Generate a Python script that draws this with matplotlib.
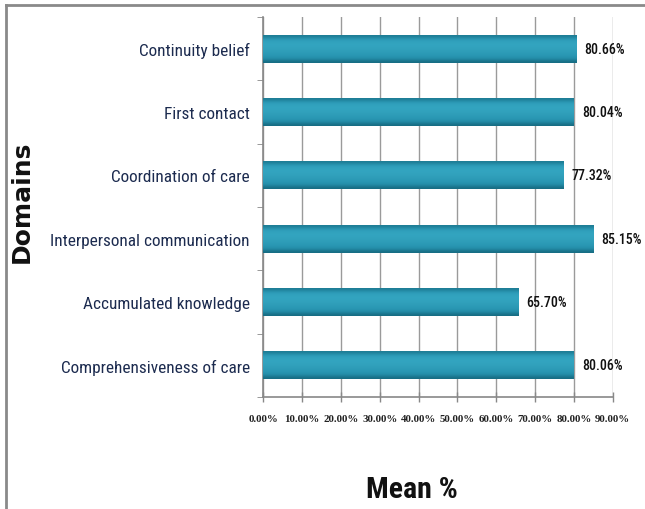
import matplotlib.pyplot as plt
import numpy as np
from matplotlib import font_manager
from matplotlib.colors import LinearSegmentedColormap
from matplotlib.lines import Line2D
from matplotlib.ticker import FixedLocator

# Domain scores (mean %), listed top to bottom
domains = ["Continuity belief", "First contact", "Coordination of care",
           "Interpersonal communication", "Accumulated knowledge",
           "Comprehensiveness of care"]
means = [80.66, 80.04, 77.32, 85.15, 65.70, 80.06]
xticks = [0, 10, 20, 30, 40, 50, 60, 70, 80, 90]

# pick a condensed sans that has a real bold face, else plain Liberation Sans
bold_faces = {f.name for f in font_manager.fontManager.ttflist
              if isinstance(f.weight, int) and f.weight >= 700}
narrow, scale = "Liberation Sans", 0.85
for cand in ["Liberation Sans Narrow", "Arial Narrow", "Roboto Condensed", "Asap Condensed"]:
    if cand in bold_faces:
        narrow, scale = cand, 1.0
        break

fig = plt.figure(figsize=(6.45, 5.10), dpi=100)
ax = fig.add_axes([0.408, 0.2196, 0.542, 0.7452])

y = np.arange(len(domains))[::-1]
bar_h = 0.44
bars = ax.barh(y, means, height=bar_h, color="#2a98b4", edgecolor="none", zorder=3)

# shaded fill for each bar: slightly darker rims, lighter body
shade = np.array([0.6, 0.85, 0.95, 0.97, 0.95, 0.9, 0.85, 0.8, 0.7, 0.5]).reshape(-1, 1)
cmap = LinearSegmentedColormap.from_list("teal", ["#14657a", "#2590ac", "#35a7c2"])
for b, v, yy in zip(bars, means, y):
    im = ax.imshow(shade, cmap=cmap, vmin=0.45, vmax=1.0, aspect="auto",
                   extent=[0, v, yy - bar_h / 2, yy + bar_h / 2],
                   interpolation="bicubic", zorder=4)
    im.set_clip_path(b)
    ax.text(v + 2.0, yy, f"{v:.2f}%", va="center", ha="left",
            fontsize=10 * scale, family=narrow, fontweight="medium",
            color="#111111", zorder=5)

ax.set_xlim(0, 90)
ax.set_ylim(-0.5, len(domains) - 0.5)
ax.set_xticks(xticks)
ax.set_xticklabels([f"{t:.2f}%" for t in xticks], family="Liberation Serif",
                   fontweight="bold", fontsize=7.8, color="#222222")
ax.tick_params(axis="x", direction="inout", length=7, width=1, color="#888888", pad=9)

ax.set_yticks(y)
ax.set_yticklabels(domains, family=narrow, fontsize=12.4 * scale, color="#1c2b4f")
ax.yaxis.set_minor_locator(FixedLocator(np.arange(-0.5, len(domains), 1.0)))
ax.tick_params(axis="y", which="major", length=0, pad=9.5)
ax.tick_params(axis="y", which="minor", direction="out", length=4, color="#888888")

ax.grid(axis="x", color="#9a9a9a", linewidth=1, zorder=0)
ax.set_axisbelow(True)
for s in ["top", "right"]:
    ax.spines[s].set_visible(False)
for s in ["left", "bottom"]:
    ax.spines[s].set_color("#888888")
    ax.spines[s].set_linewidth(1.2)

fig.text(0.639, 0.039, "Mean %", ha="center", va="center", fontsize=21.5 * scale,
         family=narrow, fontweight="bold", color="#111111")
fig.text(0.034, 0.605, "Domains", ha="center", va="center", rotation=90,
         fontsize=18, family="DejaVu Sans", fontweight="bold", color="#111111")

# outer frame on the left and top edges
fig.add_artist(Line2D([0.0093, 0.0093], [0, 0.988], transform=fig.transFigure,
                      color="#8a8a8a", linewidth=2))
fig.add_artist(Line2D([0.0093, 1], [0.988, 0.988], transform=fig.transFigure,
                      color="#8a8a8a", linewidth=2))

fig.savefig("out.png", dpi=100)
